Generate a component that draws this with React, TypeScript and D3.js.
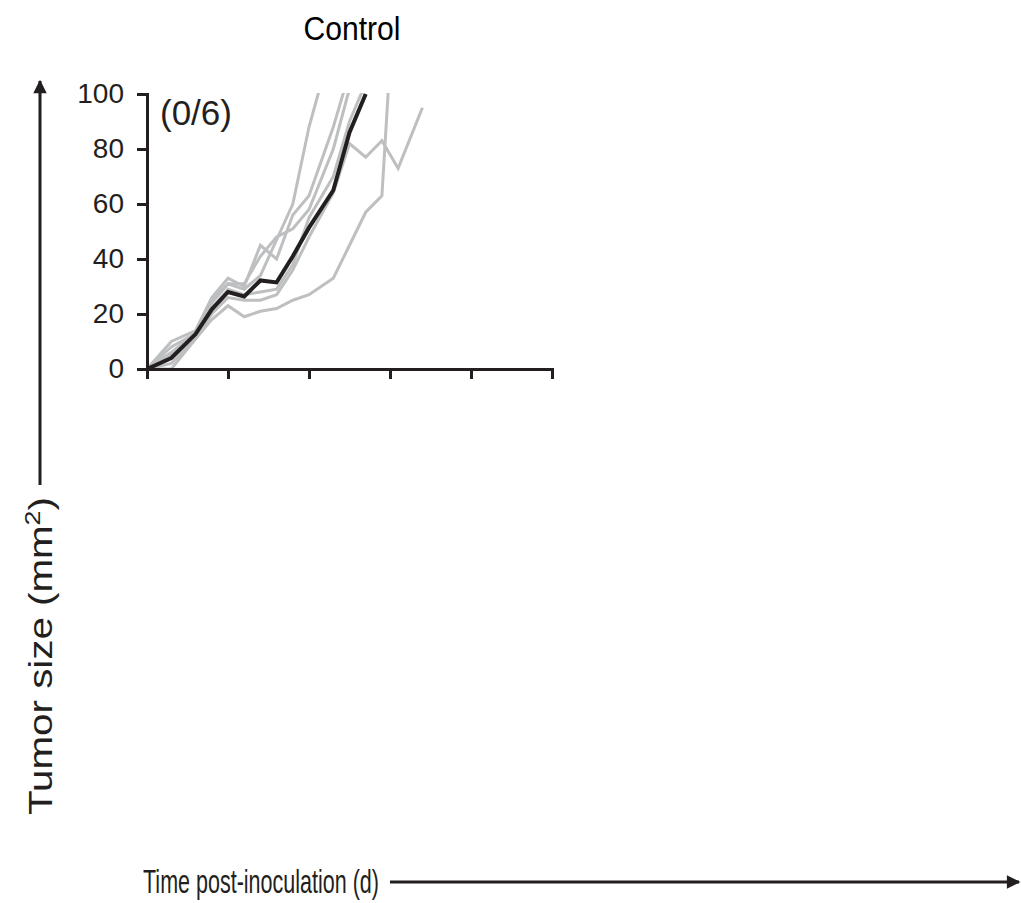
import React, { useEffect, useRef } from 'react';
import * as d3 from 'd3';

// Days post-inoculation at which tumors were measured
const days = [0, 3, 6, 8, 10, 12, 14, 16, 18, 20, 23, 25, 27, 29, 31, 34];

// Individual mice (gray), values in mm^2
const mouse1 = [0, 10, 14, 26, 33, 30, 45, 40, 56, 63, 88, 108];
const mouse2 = [0, 8, 13, 25, 31, 29, 34, 47, 60, 88, 120];
const mouse3 = [0, 5, 13, 22, 29, 27, 28, 29, 38, 55, 70, 90, 104];
const mouse4 = [0, 2, 11, 20, 26, 25, 25, 27, 36, 48, 64, 82, 77, 83, 73, 95];
const mouse5 = [0, 0, 11, 18, 23, 19, 21, 22, 25, 27, 33, 45, 57, 63, 160];
const mouse6 = [0, 6, 13, 24, 31, 31, 41, 48, 51, 58, 80, 102];

// Group mean (black)
const meanSize = [0, 4, 12.7, 21.7, 28, 26.4, 32.2, 31.5, 41, 51.4, 65, 86, 100];

const yTicks = [0, 20, 40, 60, 80, 100];
const xTicks = [0, 10, 20, 30, 40, 50];

const App = () => {
  const svgRef = useRef<SVGSVGElement>(null);

  useEffect(() => {
    const svg = d3.select(svgRef.current);
    svg.selectAll('*').remove();

    const font = '"Liberation Sans", Arial, Helvetica, sans-serif';
    const ink = '#231f20';
    const gray = '#bdbfc1';

    const x = d3.scaleLinear().domain([0, 50]).range([147, 552]);
    const y = d3.scaleLinear().domain([0, 100]).range([369, 94]);

    // clip for lines running past 100
    svg.append('defs').append('clipPath').attr('id', 'plot-clip')
      .append('rect')
      .attr('x', x(0) - 2)
      .attr('y', y(100) - 1)
      .attr('width', x(50) - x(0) + 4)
      .attr('height', y(0) - y(100) + 3);

    const line = d3.line<[number, number]>()
      .x(d => x(d[0]))
      .y(d => y(d[1]));

    const toPts = (vals: number[]) => vals.map((v, i) => [days[i], v] as [number, number]);

    const lines = svg.append('g').attr('clip-path', 'url(#plot-clip)');

    [mouse1, mouse2, mouse3, mouse4, mouse5, mouse6].forEach(m => {
      lines.append('path')
        .datum(toPts(m))
        .attr('fill', 'none')
        .attr('stroke', gray)
        .attr('stroke-width', 3)
        .attr('d', line);
    });

    lines.append('path')
      .datum(toPts(meanSize))
      .attr('fill', 'none')
      .attr('stroke', ink)
      .attr('stroke-width', 4)
      .attr('d', line);

    // Y axis
    const yAxis = svg.append('g')
      .attr('transform', `translate(${x(0)},0)`)
      .call(d3.axisLeft(y).tickValues(yTicks).tickSize(10).tickSizeOuter(0).tickPadding(13));
    yAxis.select('.domain').attr('stroke', ink).attr('stroke-width', 3).attr('stroke-linecap', 'square');
    yAxis.selectAll('.tick line').attr('stroke', ink).attr('stroke-width', 3);
    yAxis.selectAll('.tick text')
      .attr('fill', ink)
      .style('font-family', font)
      .style('font-size', '28px');

    // X axis (no labels)
    const xAxis = svg.append('g')
      .attr('transform', `translate(0,${y(0)})`)
      .call(d3.axisBottom(x).tickValues(xTicks).tickSize(10).tickSizeOuter(0).tickFormat(() => ''));
    xAxis.select('.domain').attr('stroke', ink).attr('stroke-width', 3).attr('stroke-linecap', 'square');
    xAxis.selectAll('.tick line').attr('stroke', ink).attr('stroke-width', 3);

    // Group label
    svg.append('text')
      .attr('x', 160)
      .attr('y', 125)
      .attr('fill', ink)
      .style('font-family', font)
      .style('font-size', '35px')
      .text('(0/6)');

    // Title
    svg.append('text')
      .attr('x', 352)
      .attr('y', 40)
      .attr('text-anchor', 'middle')
      .attr('fill', '#000')
      .style('font-family', font)
      .style('font-size', '33px')
      .attr('textLength', 97)
      .attr('lengthAdjust', 'spacingAndGlyphs')
      .text('Control');

    // Arrowhead marker
    svg.select('defs').append('marker')
      .attr('id', 'arrow')
      .attr('viewBox', '0 0 10 10')
      .attr('refX', 9)
      .attr('refY', 5)
      .attr('markerWidth', 5.5)
      .attr('markerHeight', 4.5)
      .attr('markerUnits', 'strokeWidth')
      .attr('orient', 'auto')
      .append('path')
      .attr('d', 'M0,0 L10,5 L0,10 z')
      .attr('fill', ink);

    // Vertical axis arrow + label
    svg.append('line')
      .attr('x1', 40).attr('y1', 485)
      .attr('x2', 40).attr('y2', 81)
      .attr('stroke', ink)
      .attr('stroke-width', 3)
      .attr('marker-end', 'url(#arrow)');

    const yLabel = svg.append('text')
      .attr('transform', 'translate(52,656) rotate(-90)')
      .attr('text-anchor', 'middle')
      .attr('fill', ink)
      .style('font-family', font)
      .style('font-size', '33px')
      .attr('textLength', 318)
      .attr('lengthAdjust', 'spacingAndGlyphs');
    yLabel.append('tspan').text('Tumor size (mm');
    yLabel.append('tspan').attr('dy', -12).style('font-size', '22px').text('2');
    yLabel.append('tspan').attr('dy', 12).text(')');

    // Horizontal axis arrow + label
    svg.append('text')
      .attr('x', 143)
      .attr('y', 893)
      .attr('fill', ink)
      .style('font-family', font)
      .style('font-size', '34px')
      .attr('textLength', 236)
      .attr('lengthAdjust', 'spacingAndGlyphs')
      .text('Time post-inoculation (d)');

    svg.append('line')
      .attr('x1', 390).attr('y1', 882)
      .attr('x2', 1019).attr('y2', 882)
      .attr('stroke', ink)
      .attr('stroke-width', 3)
      .attr('marker-end', 'url(#arrow)');
  }, []);

  return (
    <svg
      ref={svgRef}
      width={1021}
      height={903}
      style={{ position: 'absolute', left: 0, top: 0, background: '#fff' }}
    />
  );
};

export default App;
